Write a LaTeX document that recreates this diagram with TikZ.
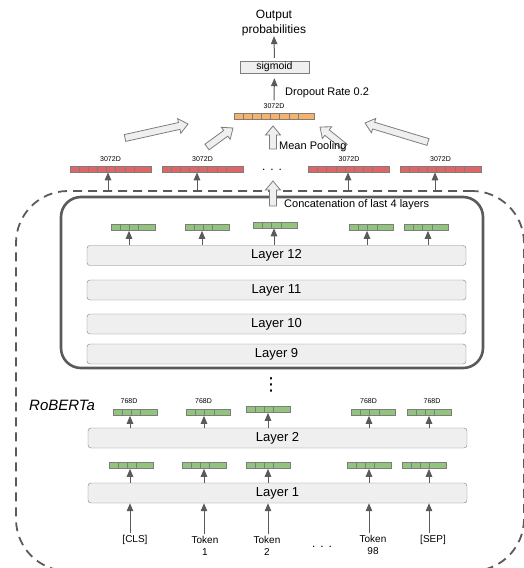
\documentclass[tikz,border=0pt]{standalone}
\usepackage{fontspec}
\setmainfont{Liberation Sans}
\newfontfamily\symfont{DejaVu Sans}
\usetikzlibrary{arrows.meta,positioning,calc}

\definecolor{vecgreen}{RGB}{147,196,125}
\definecolor{vecred}{RGB}{224,102,102}
\definecolor{vecorange}{RGB}{246,178,107}
\definecolor{boxgray}{RGB}{239,239,239}
\definecolor{linegray}{RGB}{90,90,90}
\definecolor{edgegray}{RGB}{125,125,125}

\tikzset{
  layerbox/.style={draw=edgegray, fill=boxgray, rounded corners=3pt, minimum width=379pt,
    minimum height=20pt, inner sep=0pt, font=\fontsize{13}{15}\selectfont},
  vecbox/.style={draw=edgegray, line width=0.6pt, minimum height=6pt, inner sep=0pt},
  cellline/.style={draw=edgegray, line width=0.6pt},
  upar/.style={draw=linegray, line width=1pt, -{Triangle[width=6.5pt,length=8pt]}},
  fatar/.style={draw=edgegray, fill=boxgray, line width=0.8pt, line join=miter},
  dimtext/.style={font=\fontsize{7}{8}\selectfont, inner sep=0pt},
  note/.style={font=\fontsize{11}{13}\selectfont, inner sep=0pt, anchor=west},
  tok/.style={font=\fontsize{10}{12.5}\selectfont, align=center, inner sep=0pt},
  dots/.style={font=\fontsize{12}{12}\selectfont, inner sep=0pt},
}

% embedding vector: name, centre, cells, fill, width
\newcommand\embvec[5]{%
  \node[vecbox, fill=#4, minimum width=#5pt] (#1) at (#2) {};
  \pgfmathtruncatemacro\lastcut{#3-1}
  \foreach \k in {1,...,\lastcut}
    \draw[cellline] ([xshift=\k*9.2pt]#1.north west) -- ([xshift=\k*9.2pt]#1.south west);
}

% hollow block arrow from tail to head
\newcommand\fatarrow[2]{%
  \coordinate (fa-t) at (#1);
  \coordinate (fa-h) at (#2);
  \coordinate (fa-n) at ($(fa-h)!9pt!(fa-t)$);
  \draw[fatar] ($(fa-t)!3.5pt!90:(fa-h)$) -- ($(fa-n)!3.5pt!90:(fa-h)$)
    -- ($(fa-n)!7.5pt!90:(fa-h)$) -- (fa-h) -- ($(fa-n)!7.5pt!-90:(fa-h)$)
    -- ($(fa-n)!3.5pt!-90:(fa-h)$) -- ($(fa-t)!3.5pt!-90:(fa-h)$) -- cycle;
}

\begin{document}
\begin{tikzpicture}[x=1pt, y=-1pt]
\useasboundingbox (0,0) rectangle (523,568);

% encoder frames
\node[draw=linegray, dash pattern=on 9pt off 6pt, line width=1.8pt, rounded corners=52pt,
  minimum width=508pt, minimum height=380pt, inner sep=0pt] (roberta) at (270,381) {};
\node[draw=linegray, line width=2.6pt, rounded corners=20pt,
  minimum width=422pt, minimum height=171pt, inner sep=0pt] (last4) at (272,282.5) {};
\node[font=\fontsize{15}{17}\selectfont\itshape, anchor=west, inner sep=0pt] (rname) at (29,405) {RoBERTa};

% layers
\node[layerbox] (L12) at (276.5,255.5) {Layer 12};
\node[layerbox] (L11) at (276.5,290) {Layer 11};
\node[layerbox] (L10) at (276.5,324) {Layer 10};
\node[layerbox] (L9) at (276.5,354) {Layer 9};
\node[layerbox] (L2) at (277.5,438) {Layer 2};
\node[layerbox] (L1) at (277.5,493) {Layer 1};
\node[font=\fontsize{18}{18}\selectfont\symfont, inner sep=0pt] (vd) at (271,385) {⋮};

% token inputs
\foreach \nm/\lx/\ly/\ax/\txt in {cls/135/540/130/[CLS], tk1/205/546/204/{Token\\1},
    tk2/267/546/268/{Token\\2}, tk98/373/545/369/{Token\\98}, sep/433/540/429/[SEP]}{
  \node[tok] (\nm) at (\lx,\ly) {\txt};
  \coordinate (\nm-a) at (\ax,0);
  \draw[upar] (\nm-a |- \nm.north) ++(0,-2) -- (\nm-a |- L1.south);
}
\node[dots] (tdots) at (322,547) {.\hspace{5pt}.\hspace{5pt}.};

% layer 1 outputs
\foreach \nm/\cx/\cy/\ax in {c1/131/465.5/130, c2/204/465.5/204, c3/268/465.5/268,
    c4/369/465.5/369, c5/424/465.5/429}{
  \embvec{\nm}{\cx,\cy}{4}{vecgreen}{44}
  \coordinate (\nm-a) at (\ax,0);
  \draw[upar] (\nm-a |- L1.north) -- (\nm-a |- \nm.south);
}

% layer 2 outputs
\foreach \nm/\cx/\cy/\ax in {b1/135/412.5/130, b2/208.5/412.5/204, b3/268/409.5/268,
    b4/373.5/412.5/369, b5/429/412.5/429}{
  \embvec{\nm}{\cx,\cy}{4}{vecgreen}{44}
  \coordinate (\nm-a) at (\ax,0);
  \draw[upar] (\nm-a |- L2.north) -- (\nm-a |- \nm.south);
}
\foreach \nm/\sh in {b1/-6, b2/-5, b4/-5, b5/3}
  \node[dimtext, above=5pt of \nm, xshift=\sh pt] {768D};

% layer 12 outputs
\foreach \nm/\cx/\cy/\ax in {a1/133/227.5/129, a2/207/227.5/202, a3/275.5/225/274,
    a4/371.5/227.5/367, a5/426.5/227.5/428}{
  \embvec{\nm}{\cx,\cy}{4}{vecgreen}{44}
  \coordinate (\nm-a) at (\ax,0);
  \draw[upar] (\nm-a |- L12.north) -- (\nm-a |- \nm.south);
}

% concatenated vectors
\foreach \nm/\cx/\ax in {r1/110.5/108, r2/202.5/197, r3/349/348, r4/440.5/435}{
  \embvec{\nm}{\cx,169}{8}{vecred}{81}
  \node[dimtext, above=4pt of \nm] {3072D};
  \coordinate (\nm-a) at (\ax,0);
  \draw[upar] (\nm-a |- roberta.north) -- (\nm-a |- \nm.south);
}
\node[dots] (rdots) at (272,170) {.\hspace{5pt}.\hspace{5pt}.};
\fatarrow{273,206}{273,181}
\node[note] (concat) at (284,205) {Concatenation of last 4 layers};

% pooling and head
\embvec{pool}{274,116.5}{8}{vecorange}{80}
\node[dimtext] (pooldim) at (274,106) {3072D};
\fatarrow{125,138}{188,124}
\fatarrow{207,147}{233,128}
\fatarrow{273,149}{273,126}
\fatarrow{345,147}{320,127}
\fatarrow{428,142}{365,123}
\node[note] (mean) at (279,147) {Mean Pooling};

\node[draw=edgegray, fill=boxgray, minimum width=69pt, minimum height=12pt, inner sep=0pt,
  font=\fontsize{10.5}{12}\selectfont] (sig) at (274.5,67) {sigmoid};
\draw[upar, shorten >=5pt] (pooldim.north) ++(0,-3) -- (sig.south);
\node[note] (drop) at (285,93) {Dropout Rate 0.2};
\node[font=\fontsize{12}{15}\selectfont, align=center, inner sep=0pt] (out) at (274,23) {Output\\probabilities};
\draw[upar, shorten <=3pt] (sig.north) -- (out.south);
\end{tikzpicture}
\end{document}
